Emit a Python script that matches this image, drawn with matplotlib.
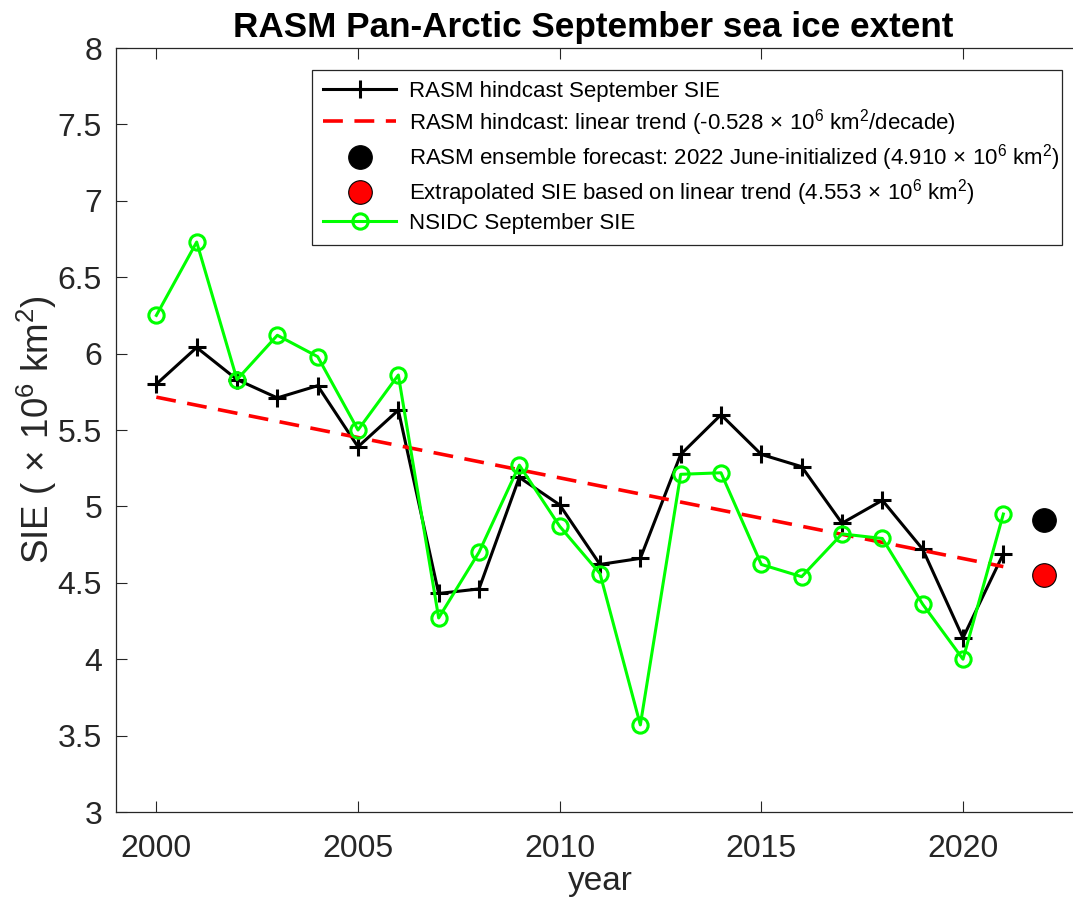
import matplotlib
matplotlib.use("Agg")
import matplotlib.pyplot as plt

# ---- data ----
years = list(range(2000, 2022))
rasm_sie = [5.80, 6.04, 5.83, 5.71, 5.79, 5.39, 5.63, 4.43, 4.46, 5.19, 5.01,
            4.62, 4.66, 5.34, 5.60, 5.34, 5.26, 4.89, 5.04, 4.72, 4.14, 4.69]
nsidc_sie = [6.25, 6.73, 5.83, 6.12, 5.98, 5.50, 5.86, 4.27, 4.70, 5.27, 4.87,
             4.56, 3.57, 5.21, 5.22, 4.62, 4.54, 4.82, 4.79, 4.36, 4.00, 4.95]
trend_years = [2000, 2021]
trend_vals = [5.715, 4.606]
forecast_year = [2022]
forecast_val = [4.910]
extrap_val = [4.553]

labels = [
    "RASM hindcast September SIE",
    r"RASM hindcast: linear trend (-0.528$\,\times\,$10$^6$ km$^2$/decade)",
    r"RASM ensemble forecast: 2022 June-initialized (4.910$\,\times\,$10$^6$ km$^2$)",
    r"Extrapolated SIE based on linear trend (4.553$\,\times\,$10$^6$ km$^2$)",
    "NSIDC September SIE",
]
xticks = [2000, 2005, 2010, 2015, 2020]
yticks = [3, 3.5, 4, 4.5, 5, 5.5, 6, 6.5, 7, 7.5, 8]
ytick_labels = ["3", "3.5", "4", "4.5", "5", "5.5", "6", "6.5", "7", "7.5", "8"]

plt.rcParams['font.family'] = ['Liberation Sans', 'DejaVu Sans']
plt.rcParams['mathtext.fontset'] = 'custom'
plt.rcParams['mathtext.rm'] = 'Liberation Sans'
plt.rcParams['mathtext.it'] = 'Liberation Sans:italic'
plt.rcParams['mathtext.bf'] = 'Liberation Sans:bold'

fig = plt.figure(figsize=(10.73, 9.0), dpi=100)
ax = fig.add_axes([116/1073, 1-812/900, 968/1073, 764/900])

gray = '#262626'
h1, = ax.plot(years, rasm_sie, color='black', lw=2.2, marker='+', ms=13, mew=2.2)
h2, = ax.plot(trend_years, trend_vals, color='red', lw=2.6, ls=(0, (5.5, 3.2)))
h3, = ax.plot(forecast_year, forecast_val, ls='none', marker='o', ms=17,
              mfc='black', mec='black', mew=0.8)
h4, = ax.plot(forecast_year, extrap_val, ls='none', marker='o', ms=17,
              mfc='red', mec='black', mew=0.8)
h5, = ax.plot(years, nsidc_sie, color='#00ff00', lw=2.2, marker='o', ms=11,
              mfc='none', mec='#00ff00', mew=2.2)

ax.set_xlim(1999, 2023)
ax.set_ylim(3, 8)
ax.set_xticks(xticks)
ax.set_yticks(yticks)
ax.set_yticklabels(ytick_labels)
ax.tick_params(direction='in', length=8, width=0.8, colors=gray, labelsize=23,
               top=True, right=True)
ax.tick_params(axis='x', pad=16)
ax.tick_params(axis='y', pad=10)
for s in ax.spines.values():
    s.set_color(gray)
    s.set_linewidth(0.9)

ax.set_xlabel('year', fontsize=24, color=gray, labelpad=1)
ax.set_ylabel(r'SIE ($\,\times\,$10$^6$ km$^2$)', fontsize=26.5, color=gray, labelpad=-1)
ax.set_title('RASM Pan-Arctic September sea ice extent', fontsize=25.3,
             fontweight='bold', pad=8, x=0.4928)

leg = ax.legend([h1, h2, h3, h4, h5], labels, loc='upper left',
                bbox_to_anchor=(0.2025, 0.743, 0.775, 0.228), mode='expand',
                borderaxespad=0, fontsize=16, handlelength=3.3, handletextpad=0.55,
                labelspacing=0.2, borderpad=0.5, fancybox=False, framealpha=1,
                edgecolor=gray, numpoints=1)
leg.get_frame().set_linewidth(0.9)

fig.savefig('out.png', dpi=100)
